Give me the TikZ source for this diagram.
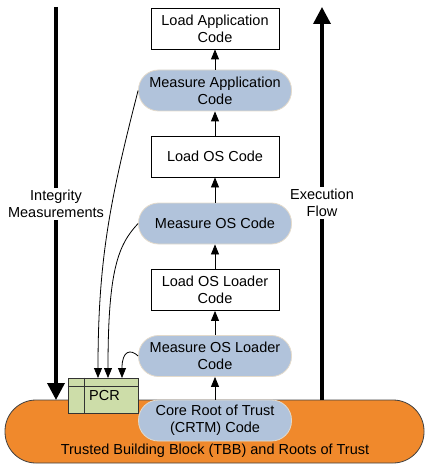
\documentclass[tikz,border=0pt]{standalone}
\usepackage{fontspec}
\setmainfont{Liberation Sans}
\usetikzlibrary{arrows.meta}
\definecolor{mblue}{HTML}{B1C3DB}
\definecolor{mborder}{HTML}{E3DACB}
\definecolor{torange}{HTML}{F0892C}
\definecolor{pgreen}{HTML}{CDDDA9}
\tikzset{
  txt/.style={font=\fontsize{14.5}{16.7}\selectfont, align=center, inner sep=1pt},
  loadbox/.style={txt, draw=black, line width=0.8pt, fill=white, minimum width=128pt, minimum height=41pt},
  measbox/.style={txt, draw=mborder, line width=0.8pt, fill=mblue, minimum width=153pt, minimum height=41pt, rounded corners=20pt},
  thin/.style={line width=0.8pt, -{Triangle[width=8pt,length=10pt]}},
  thick/.style={line width=3.5pt, -{Triangle[width=17pt,length=17pt]}},
  lbl/.style={txt, fill=white, inner sep=2pt},
}
\begin{document}
\begin{tikzpicture}[x=1pt,y=-1pt]
\useasboundingbox (0,0) rectangle (425,465);
% base
\node[draw=black!75, line width=0.8pt, fill=torange, minimum width=419pt, minimum height=63pt, rounded corners=31pt, inner sep=0pt] (tbb) at (214.5,431.5) {};
\node[txt] (tbbt) at (215,451) {Trusted Building Block (TBB) and Roots of Trust};
% thick arrows
\coordinate (ltop) at (56,7);
\coordinate (lbot) at (56,400);
\coordinate (rbot) at (322,400);
\coordinate (rtop) at (322,7);
\draw[thick] (ltop) -- (lbot);
\draw[thick] (rbot) -- (rtop);
\node[lbl] (im) at (56,204) {Integrity\\Measurements};
\node[lbl] (ef) at (322,203) {Execution\\Flow};
% chain
\node[loadbox] (lapp) at (215,28.5) {Load Application\\Code};
\node[measbox] (mapp) at (215,90.5) {Measure Application\\Code};
\node[loadbox] (los) at (215,156.5) {Load OS Code};
\node[measbox] (mos) at (215,223.5) {Measure OS Code};
\node[loadbox] (losl) at (215,290) {Load OS Loader\\Code};
\node[measbox] (mosl) at (215,356) {Measure OS Loader\\Code};
\node[measbox] (crtm) at (215,420.5) {Core Root of Trust\\(CRTM) Code};
\draw[thin] (crtm) -- (mosl);
\draw[thin] (mosl) -- (losl);
\draw[thin] (losl) -- (mos);
\draw[thin] (mos) -- (los);
\draw[thin] (los) -- (mapp);
\draw[thin] (mapp) -- (lapp);
% PCR
\node[draw=black!80, line width=0.8pt, fill=pgreen, minimum width=70pt, minimum height=35pt, inner sep=0pt] (pcr) at (103,395.5) {};
\draw[line width=0.8pt, black!80] ([xshift=17pt]pcr.north west) -- ([xshift=17pt]pcr.south west);
\draw[line width=0.8pt, black!80] ([yshift=-9pt]pcr.north west) -- ([yshift=-9pt]pcr.north east);
\node[txt, anchor=west] (pcrt) at (88,396) {PCR};
% measurement curves
\coordinate (p1) at (98,378);
\coordinate (p2) at (108,378);
\coordinate (p3) at (122,378);
\draw[thin] (mapp.west) .. controls (110,200) and (98,260) .. (p1);
\draw[thin] (mos.west) .. controls (118,245) and (108,270) .. (p2);
\draw[thin] (mosl.west) .. controls (131,349) and (122,350) .. (p3);
\end{tikzpicture}
\end{document}
